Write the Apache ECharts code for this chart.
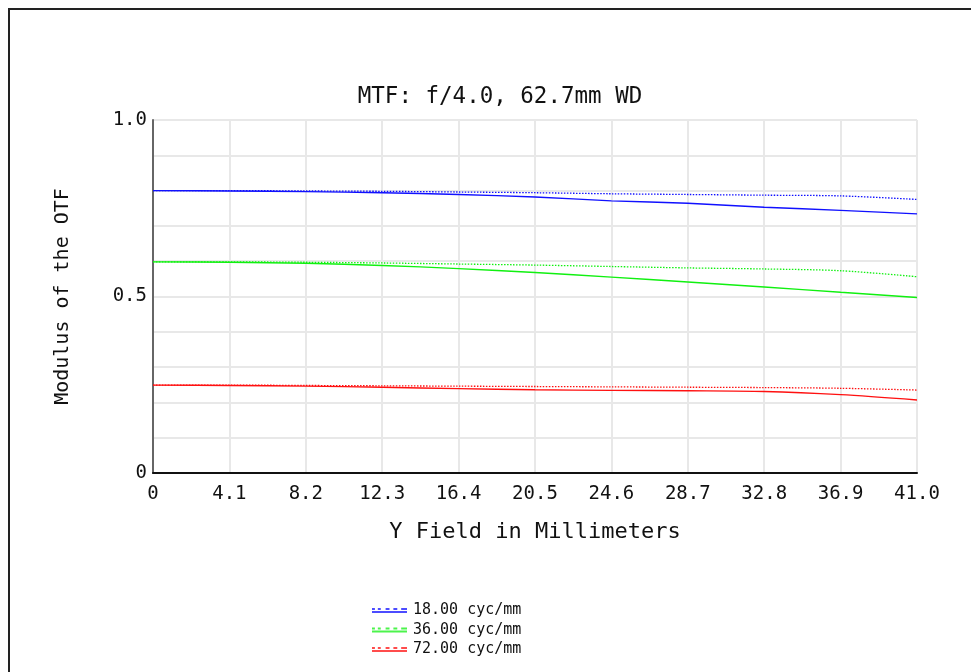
<!DOCTYPE html>
<html>
<head>
<meta charset="utf-8">
<script src="https://cdn.jsdelivr.net/npm/echarts@6/dist/echarts.min.js"></script>
<style>
html,body{margin:0;padding:0;background:#fff;}
#chart{width:971px;height:672px;}
</style>
</head>
<body>
<div id="chart"></div>
<script>
// Y field positions (mm)
const fieldMM = [0, 4.1, 8.2, 12.3, 16.4, 20.5, 24.6, 28.7, 32.8, 36.9, 41.0];
// series names (legend)
const freqNames = ['18.00 cyc/mm', '36.00 cyc/mm', '72.00 cyc/mm'];
// MTF values, solid (tangential) and dotted (sagittal)
const mtf18T = [0.800, 0.799, 0.797, 0.794, 0.789, 0.782, 0.771, 0.764, 0.753, 0.744, 0.734];
const mtf18S = [0.800, 0.800, 0.799, 0.798, 0.796, 0.794, 0.791, 0.789, 0.787, 0.785, 0.775];
const mtf36T = [0.598, 0.597, 0.594, 0.588, 0.579, 0.568, 0.555, 0.541, 0.527, 0.512, 0.497];
const mtf36S = [0.598, 0.598, 0.597, 0.595, 0.592, 0.589, 0.585, 0.581, 0.578, 0.573, 0.556];
const mtf72T = [0.249, 0.248, 0.246, 0.243, 0.239, 0.236, 0.234, 0.233, 0.231, 0.222, 0.207];
const mtf72S = [0.249, 0.249, 0.248, 0.247, 0.246, 0.245, 0.244, 0.243, 0.242, 0.240, 0.235];
const yTickLabels = {'0': '0', '0.5': '0.5', '1': '1.0'};

const colors = ['#1010ff', '#10f010', '#ff1010'];
const mono = 'DejaVu Sans Mono';
const legendIcon = 'path://M0,6L36,6L36,8L0,8Z M0,3L3,3L3,5L0,5Z M6,3L9,3L9,5L6,5Z M14,3L18,3L18,5L14,5Z M22,3L26,3L26,5L22,5Z M30,3L36,3L36,5L30,5Z';

function pairs(vals) { return fieldMM.map((x, i) => [x, vals[i]]); }
function mk(name, vals, color, dotted) {
  return {
    name: name, type: 'line', data: pairs(vals), showSymbol: false, smooth: 0.3,
    symbol: 'none',
    lineStyle: {color: color, width: dotted ? 1.3 : 1.4, type: dotted ? [1.5, 1.5] : 'solid'},
    itemStyle: {color: color}, emphasis: {disabled: true}, z: dotted ? 2 : 3
  };
}

const chart = echarts.init(document.getElementById('chart'));
chart.setOption({
  animation: false,
  backgroundColor: '#fff',
  graphic: [{
    type: 'rect', shape: {x: 9, y: 9, width: 1200, height: 1200},
    style: {fill: 'none', stroke: '#222', lineWidth: 2}, silent: true
  }],
  title: {
    text: 'MTF: f/4.0, 62.7mm WD', left: 495, top: 81, textAlign: 'center',
    textStyle: {fontFamily: mono, fontSize: 22.5, fontWeight: 'normal', color: '#111'}
  },
  grid: {left: 153, right: 54, top: 120, bottom: 199, containLabel: false},
  legend: {
    orient: 'vertical', left: 372, top: 602, width: 200, height: 70, padding: 0,
    itemWidth: 35, itemHeight: 8, itemGap: 2.5,
    icon: legendIcon,
    data: freqNames.map((n, i) => ({name: n, itemStyle: {color: colors[i], opacity: 0.75}})),
    textStyle: {fontFamily: mono, fontSize: 15, lineHeight: 17, color: '#111', padding: [0, 0, 0, 1]}
  },
  xAxis: {
    type: 'value', min: 0, max: 41, interval: 4.1,
    name: 'Y Field in Millimeters', nameLocation: 'middle', nameGap: 48,
    nameTextStyle: {fontFamily: mono, fontSize: 22, color: '#111'},
    axisLine: {show: true, lineStyle: {color: '#111', width: 2}},
    axisTick: {show: false},
    axisLabel: {
      fontFamily: mono, fontSize: 19, color: '#111', margin: 12,
      formatter: v => (Math.abs(v) < 1e-9 ? '0' : v.toFixed(1))
    },
    splitLine: {show: true, lineStyle: {color: '#e8e8e8', width: 2}}
  },
  yAxis: {
    type: 'value', min: 0, max: 1, interval: 0.1,
    name: 'Modulus of the OTF', nameLocation: 'middle', nameGap: 80,
    nameTextStyle: {fontFamily: mono, fontSize: 20, color: '#111'},
    axisLine: {show: true, lineStyle: {color: '#666', width: 2}},
    axisTick: {show: false},
    axisLabel: {
      fontFamily: mono, fontSize: 19, color: '#111', margin: 6,
      formatter: v => {
        const k = String(Math.round(v * 10) / 10);
        return yTickLabels[k] !== undefined ? yTickLabels[k] : '';
      }
    },
    splitLine: {show: true, lineStyle: {color: '#e8e8e8', width: 2}}
  },
  series: [
    mk(freqNames[0], mtf18T, colors[0], false),
    mk(freqNames[0], mtf18S, colors[0], true),
    mk(freqNames[1], mtf36T, colors[1], false),
    mk(freqNames[1], mtf36S, colors[1], true),
    mk(freqNames[2], mtf72T, colors[2], false),
    mk(freqNames[2], mtf72S, colors[2], true)
  ]
});
</script>
</body>
</html>
